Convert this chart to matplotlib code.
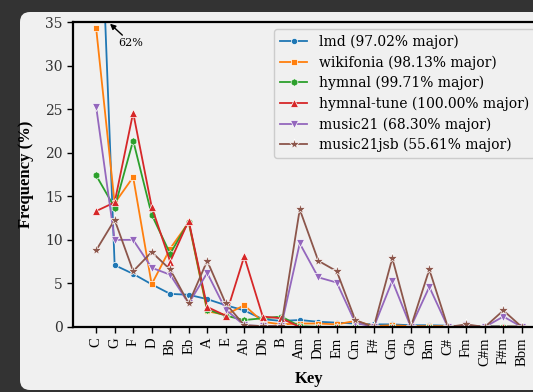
import numpy as np
import matplotlib
matplotlib.use("Agg")
import matplotlib.pyplot as plt
from matplotlib.patches import FancyBboxPatch

keys = ["C", "G", "F", "D", "Bb", "Eb", "A", "E", "Ab", "Db", "B", "Am",
        "Dm", "Em", "Cm", "F#", "Gm", "Gb", "Bm", "C#", "Fm", "C#m", "F#m", "Bbm"]

lmd = [62.0, 7.1, 6.1, 4.9, 3.8, 3.7, 3.2, 2.5, 1.9, 0.9, 0.7, 0.8,
       0.6, 0.5, 0.4, 0.3, 0.3, 0.2, 0.2, 0.15, 0.1, 0.1, 0.1, 0.05]
wikifonia = [34.3, 14.2, 17.2, 4.9, 9.0, 12.0, 1.8, 1.4, 2.5, 0.6, 0.3, 0.4,
             0.4, 0.3, 0.7, 0.1, 0.2, 0.1, 0.1, 0.1, 0.1, 0.05, 0.05, 0.05]
hymnal = [17.4, 13.7, 21.4, 12.9, 8.4, 12.1, 2.0, 1.3, 0.8, 1.0, 1.2, 0.1,
          0.0, 0.0, 0.0, 0.0, 0.0, 0.0, 0.0, 0.0, 0.0, 0.0, 0.0, 0.0]
hymnal_tune = [13.3, 14.3, 24.6, 13.8, 7.5, 12.2, 2.3, 1.3, 8.1, 1.2, 1.0, 0.0,
               0.0, 0.0, 0.0, 0.0, 0.0, 0.0, 0.0, 0.0, 0.0, 0.0, 0.0, 0.0]
music21 = [25.3, 10.0, 10.0, 6.8, 6.0, 2.7, 6.2, 2.0, 0.2, 0.1, 0.1, 9.6,
           5.7, 5.1, 0.5, 0.0, 5.3, 0.0, 4.6, 0.0, 0.2, 0.0, 1.2, 0.0]
music21jsb = [8.8, 12.3, 6.4, 8.6, 6.6, 2.7, 7.6, 2.7, 0.2, 0.1, 0.1, 13.5,
              7.6, 6.4, 0.8, 0.0, 7.9, 0.0, 6.6, 0.0, 0.3, 0.0, 1.9, 0.0]

names = ["lmd (97.02% major)", "wikifonia (98.13% major)", "hymnal (99.71% major)",
         "hymnal-tune (100.00% major)", "music21 (68.30% major)", "music21jsb (55.61% major)"]
series = [lmd, wikifonia, hymnal, hymnal_tune, music21, music21jsb]
markers = [".", "s", "h", "^", "v", "*"]
sizes = [9, 5, 5.5, 6, 6, 8]

panel = "#f0f0f0"
fig = plt.figure(figsize=(5.33, 3.92), dpi=100, facecolor="#333333")
fig.patches.append(FancyBboxPatch((20, 2), 600, 378, boxstyle="round,pad=0,rounding_size=10",
                                  transform=None, facecolor=panel, edgecolor="none", zorder=-10))

ax = fig.add_axes([73 / 533, 65 / 392, 472 / 533, 305 / 392])
ax.set_facecolor(panel)

x = np.arange(len(keys))
for vals, name, m, ms in zip(series, names, markers, sizes):
    ax.plot(x, vals, marker=m, ms=ms, lw=1.3, mec="white", mew=0.5, label=name)

ax.set_ylim(0, 35)
ax.set_xlim(-1.25, len(keys) - 1 + 1.25)
ax.set_xticks(x)
ax.set_xticklabels(keys, rotation=90, family="Liberation Serif", fontsize=10.5)
ax.set_yticks(np.arange(0, 36, 5))
for t in ax.get_yticklabels():
    t.set_family("DejaVu Serif")
    t.set_fontsize(10)
    t.set_color("#333333")
ax.tick_params(length=4, width=1)
for s in ax.spines.values():
    s.set_linewidth(1.6)

ax.set_xlabel("Key", family="Liberation Serif", fontweight="bold", fontsize=12, labelpad=4)
ax.set_ylabel("Frequency (%)", family="Liberation Serif", fontweight="bold", fontsize=12, labelpad=8)

ax.annotate("62%", xy=(0.75, 34.8), xytext=(1.2, 32.6), fontsize=8, family="DejaVu Serif",
            va="center", ha="left",
            arrowprops=dict(arrowstyle="-|>", color="black", lw=1, mutation_scale=8, shrinkA=0, shrinkB=0))

leg = ax.legend(loc="upper left", bbox_to_anchor=(0.426, 0.977), borderaxespad=0,
                prop={"family": "DejaVu Serif", "size": 10}, labelspacing=0.45,
                facecolor=panel, edgecolor="#cccccc", framealpha=1)

fig.savefig("out.png", dpi=100, facecolor=fig.get_facecolor())
